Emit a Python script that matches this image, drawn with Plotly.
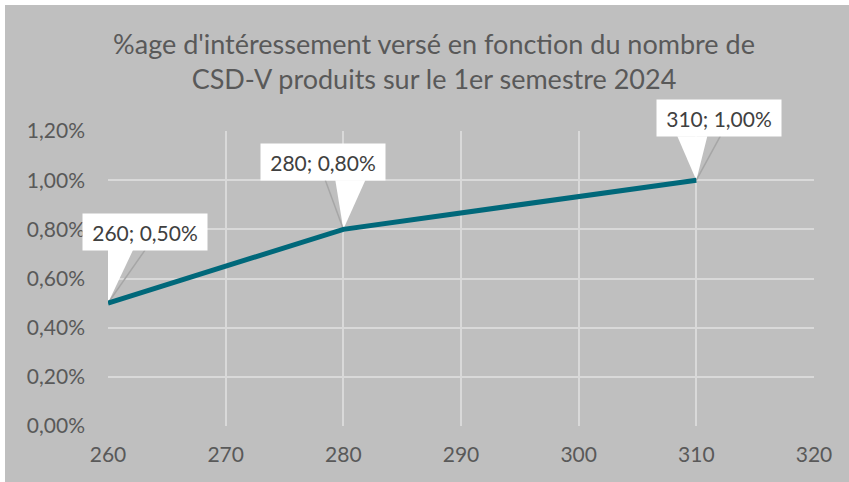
import plotly.graph_objects as go

# ---- data ----
nb_csdv = [260, 280, 310]
pct_interessement = [0.005, 0.008, 0.010]
x_ticks = [260, 270, 280, 290, 300, 310, 320]
y_ticks = [0.0, 0.002, 0.004, 0.006, 0.008, 0.010, 0.012]
title_lines = ["%age d'intéressement versé en fonction du nombre de",
               "CSD-V produits sur le 1er semestre 2024"]

# ---- styles ----
FONT = "Lato, 'Open Sans', sans-serif"
TXT = "#595959"
BG = "#bfbfbf"
GRID = "#d9d9d9"
LINE = "#00687a"

# callout offsets in pixels (box centre dx, dy up; triangle base; shadow end)
callouts = [
    dict(dx=37, dy=71, bl=-5, br=25, sx=37),
    dict(dx=-20, dy=67, bl=-8, br=22, sx=-18),
    dict(dx=23, dy=62, bl=-19, br=11, sx=24),
]
BOX_W, BOX_H = 124, 36

L, R, T, B = 108, 35, 131, 56
W, H = 849, 482
pw, ph = W - L - R, H - T - B
X_RANGE = [x_ticks[0], x_ticks[-1]]
Y_RANGE = [y_ticks[0], y_ticks[-1]]

fig = go.Figure()
fig.add_trace(go.Scatter(x=nb_csdv, y=pct_interessement, mode="lines",
                         line=dict(color=LINE, width=5), hoverinfo="skip"))
# invisible trace to activate the grid-only overlay axes
fig.add_trace(go.Scatter(x=[None], y=[None], xaxis="x2", yaxis="y2",
                         mode="lines", hoverinfo="skip"))

shapes = [dict(type="rect", xref="paper", yref="paper", layer="below",
               x0=(5 - L) / pw, x1=(W - L) / pw,
               y0=-B / ph, y1=(H - B - 5) / ph,
               fillcolor=BG, line=dict(width=0))]
annotations = []
for xv, yv, c in zip(nb_csdv, pct_interessement, callouts):
    base = c["dy"] - BOX_H / 2
    shapes.append(dict(type="path", xref="x", yref="y", layer="between",
                       xsizemode="pixel", ysizemode="pixel",
                       xanchor=xv, yanchor=yv,
                       path=f"M 0,0 L {c['bl']},{base} L {c['br']},{base} Z",
                       fillcolor="white", line=dict(width=0)))
    shapes.append(dict(type="path", xref="x", yref="y", layer="between",
                       xsizemode="pixel", ysizemode="pixel",
                       xanchor=xv, yanchor=yv,
                       path=f"M 0,0 L {c['sx']},{base}",
                       line=dict(color="#a6a6a6", width=1.5)))
    label = f"{xv}; {yv*100:.2f}%".replace(".", ",")
    annotations.append(dict(x=xv, y=yv, xref="x", yref="y", text=label,
                            showarrow=False, xshift=c["dx"], yshift=c["dy"],
                            width=BOX_W, height=BOX_H, bgcolor="white",
                            borderpad=0, align="center", valign="middle",
                            font=dict(family=FONT, size=21, color="#404040")))

fig.update_layout(
    width=W, height=H,
    margin=dict(l=L, r=R, t=T, b=B),
    paper_bgcolor="white", plot_bgcolor="rgba(0,0,0,0)",
    separators=", ",
    showlegend=False,
    title=dict(text="<br>".join(title_lines), x=434 / W, xanchor="center",
               y=1 - 54 / H, yanchor="middle", yref="container",
               font=dict(family=FONT, size=27, color=TXT)),
    xaxis=dict(range=X_RANGE, tickvals=x_ticks, showgrid=False,
               zeroline=False, showline=False,
               ticks="", tickfont=dict(family=FONT, size=21, color=TXT),
               ticklabelstandoff=14),
    yaxis=dict(range=Y_RANGE, tickvals=y_ticks, tickformat=".2%",
               showgrid=False, zeroline=False,
               showline=False, ticks="",
               tickfont=dict(family=FONT, size=21, color=TXT),
               ticklabelstandoff=22),
    xaxis2=dict(range=X_RANGE, tickvals=x_ticks[1:], overlaying="x",
                showgrid=True, gridcolor=GRID, gridwidth=1.5,
                zeroline=False, showline=False, showticklabels=False,
                ticks=""),
    yaxis2=dict(range=Y_RANGE, tickvals=y_ticks[1:], overlaying="y",
                showgrid=True, gridcolor=GRID, gridwidth=1.5,
                zeroline=False, showline=False, showticklabels=False,
                ticks=""),
    shapes=shapes, annotations=annotations,
)

fig.write_html("out.html", config={"displayModeBar": False},
               post_script="document.body.style.margin='0';")
